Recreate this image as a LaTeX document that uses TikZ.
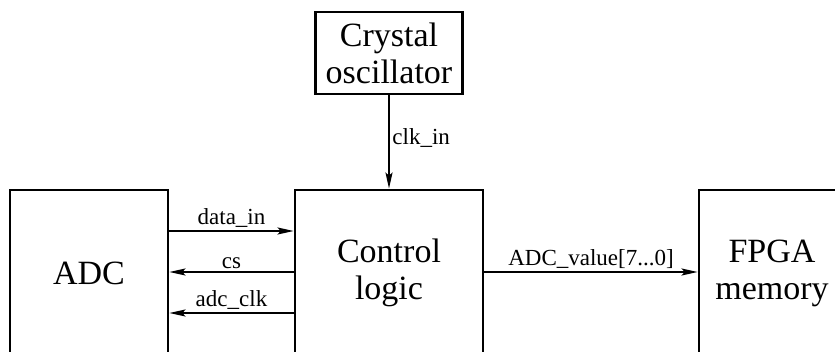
\documentclass[tikz,border=0pt]{standalone}
\usepackage{fontspec}
\setmainfont{Liberation Serif}
\usetikzlibrary{arrows.meta,positioning}

\begin{document}
\begin{tikzpicture}[x=1pt,y=-1pt,
  blk/.style={draw=black, line width=2.8pt, align=center, inner sep=0pt,
              font=\fontsize{34}{37}\selectfont},
  sig/.style={font=\fontsize{23}{25}\selectfont, inner sep=2.5pt},
  arr/.style={draw=black, line width=1.9pt,
              -{Stealth[length=16pt,width=7pt,inset=3pt]}}
]
  \useasboundingbox (0,0) rectangle (835,352);
  \clip (0,0) rectangle (835,352);

  \node[blk, minimum width=147pt, minimum height=82pt]  (osc)  at (389,53)  {Crystal\\oscillator};
  \node[blk, minimum width=188pt, minimum height=166pt] (ctrl) at (389,273) {Control\\logic};
  \node[blk, minimum width=158pt, minimum height=166pt] (adc)  at (89,273)  {ADC};
  \node[blk, minimum width=146pt, minimum height=166pt] (fpga) at (772,273) {FPGA\\memory};

  \draw[arr] (osc) -- node[sig, right, yshift=4pt] {clk\_in} (ctrl);
  \draw[arr] (adc.east |- 0,231) -- node[sig, above] {data\_in} (ctrl.west |- 0,231);
  \draw[arr] (ctrl.west |- 0,272) -- node[sig, above] {cs} (adc.east |- 0,272);
  \draw[arr] (ctrl.west |- 0,313) -- node[sig, above] {adc\_clk} (adc.east |- 0,313);
  \draw[arr] (ctrl.east |- 0,272) -- node[sig, above] {ADC\_value[7...0]} (fpga.west |- 0,272);

\end{tikzpicture}
\end{document}
